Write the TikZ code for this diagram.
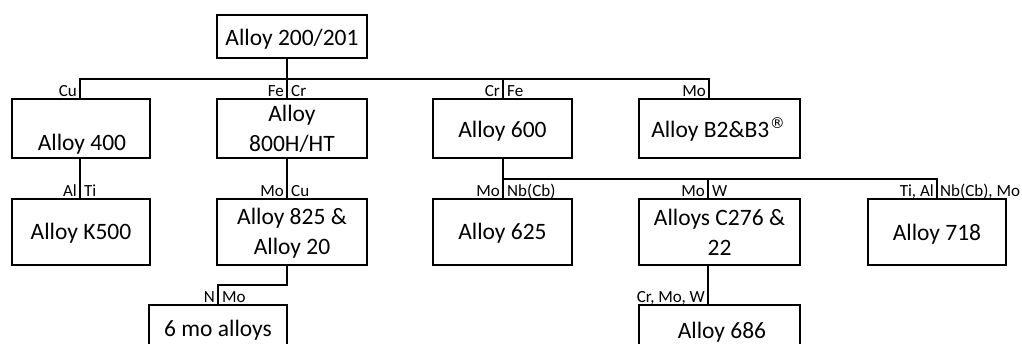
\documentclass[tikz,border=0pt]{standalone}
\usepackage{fontspec}
\setmainfont{Carlito}
\newfontfamily\regfont{DejaVu Sans}
\begin{document}
\begin{tikzpicture}[x=1pt,y=-1pt,
  box/.style={draw=black, line width=1.6pt, inner sep=0pt, outer sep=0pt, minimum width=#1},
  box/.default=138,
  btxt/.style={inner sep=0pt, anchor=base, font=\fontsize{23.5}{30}\selectfont},
  lbl/.style={inner sep=0pt, font=\fontsize{17}{20}\selectfont},
  lblL/.style={lbl, anchor=base east},
  lblR/.style={lbl, anchor=base west},
  conn/.style={draw=black, line width=1.6pt, line cap=rect}]
\useasboundingbox (0,0) rectangle (1022,343);
\clip (0,0) rectangle (1022,343);
% boxes
\node[box=150, minimum height=43] (top) at (292,36.5) {};
\node[box=138, minimum height=59] (n400) at (81,128.5) {};
\node[box=150, minimum height=59] (n800) at (292,128.5) {};
\node[box=139, minimum height=59] (n600) at (502.5,128.5) {};
\node[box=161, minimum height=59] (nB) at (719.5,128.5) {};
\node[box=138, minimum height=66] (nK) at (81,232) {};
\node[box=150, minimum height=66] (n825) at (292,232) {};
\node[box=139, minimum height=66] (n625) at (502.5,232) {};
\node[box=161, minimum height=66] (nC) at (719.5,232) {};
\node[box=138, minimum height=66] (n718) at (937,232) {};
\node[box=138, minimum height=60] (n6mo) at (218,335) {};
\node[box=161, minimum height=60] (n686) at (719.5,335) {};
% box texts
\node[btxt] (t200) at (292,45) {Alloy 200/201};
\node[btxt] (t400) at (82,150) {Alloy 400};
\node[btxt] (t800a) at (292,121.5) {Alloy};
\node[btxt] (t800b) at (292,151) {800H/HT};
\node[btxt] (t600) at (502.5,137) {Alloy 600};
\node[btxt] (tB) at (718,137) {Alloy B2\&B3\raisebox{9pt}{\regfont\fontsize{15}{15}\selectfont\kern0.5pt ®}};
\node[btxt] (tK) at (81,239) {Alloy K500};
\node[btxt] (t825a) at (292,224) {Alloy 825 \&};
\node[btxt] (t825b) at (292,254) {Alloy 20};
\node[btxt] (t625) at (502.5,239) {Alloy 625};
\node[btxt] (tCa) at (719.5,225) {Alloys C276 \&};
\node[btxt] (tCb) at (719.5,255) {22};
\node[btxt] (t718) at (937,240) {Alloy 718};
\node[btxt] (t6mo) at (218,336) {6 mo alloys};
\node[btxt] (t686) at (722,338) {Alloy 686};
% junctions
\coordinate (j400) at (80,79);
\coordinate (j800) at (287,79);
\coordinate (j600) at (503,79);
\coordinate (jB) at (709,79);
\coordinate (k625) at (503,179);
\coordinate (kC) at (708,179);
\coordinate (k718) at (937,179);
\coordinate (m1) at (287,285);
\coordinate (m2) at (218,285);
% connectors
\draw[conn] (top.south -| j800) -- (j800);
\draw[conn] (j400 |- n400.north) -- (j400) -- (jB) -- (jB |- nB.north);
\draw[conn] (j800) -- (j800 |- n800.north);
\draw[conn] (j600) -- (j600 |- n600.north);
\draw[conn] (n400.south -| j400) -- (j400 |- nK.north);
\draw[conn] (n800.south -| j800) -- (j800 |- n825.north);
\draw[conn] (n600.south -| k625) -- (k625) -- (k718) -- (k718 |- n718.north);
\draw[conn] (k625) -- (k625 |- n625.north);
\draw[conn] (kC) -- (kC |- nC.north);
\draw[conn] (n825.south -| m1) -- (m1) -- (m2) -- (m2 |- n6mo.north);
\draw[conn] (nC.south -| kC) -- (kC |- n686.north);
% labels
\node[lblL] (lCu) at (77,96) {Cu};
\node[lblL] (lFe1) at (284,96) {Fe};
\node[lblR] (lCr1) at (291,96) {Cr};
\node[lblL] (lCr2) at (500,96) {Cr};
\node[lblR] (lFe2) at (507,96) {Fe};
\node[lblL] (lMo1) at (706,96) {Mo};
\node[lblL] (lAl) at (77,196) {Al};
\node[lblR] (lTi) at (84,196) {Ti};
\node[lblL] (lMo2) at (284,196) {Mo};
\node[lblR] (lCu2) at (291,196) {Cu};
\node[lblL] (lMo3) at (500,196) {Mo};
\node[lblR] (lNb) at (507,196) {Nb(Cb)};
\node[lblL] (lMo4) at (705,196) {Mo};
\node[lblR] (lW) at (712,196) {W};
\node[lblL] (lTiAl) at (934,196) {Ti, Al};
\node[lblR] (lNbMo) at (940,196) {Nb(Cb), Mo};
\node[lblL] (lN) at (215,302) {N};
\node[lblR] (lMo5) at (222,302) {Mo};
\node[lblL] (lCrMoW) at (705,302) {Cr, Mo, W};
\end{tikzpicture}
\end{document}
